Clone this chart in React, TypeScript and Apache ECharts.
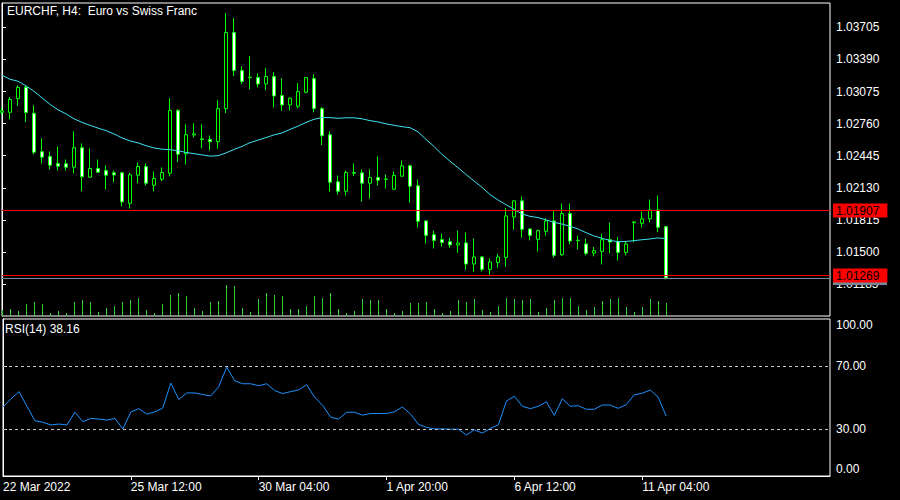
import React, { useEffect, useRef } from 'react';
import * as echarts from 'echarts';

// [open, close, low, high] for each H4 bar, 22 Mar 2022 20:00 .. 11 Apr 2022 16:00
const candles: number[][] = [
  [1.02871, 1.02885, 1.02841, 1.02920],
  [1.02871, 1.02996, 1.02802, 1.03021],
  [1.03006, 1.03114, 1.02933, 1.03136],
  [1.03117, 1.02868, 1.02775, 1.03136],
  [1.02861, 1.02480, 1.02457, 1.02940],
  [1.02484, 1.02431, 1.02369, 1.02615],
  [1.02438, 1.02352, 1.02310, 1.02487],
  [1.02369, 1.02342, 1.02300, 1.02536],
  [1.02366, 1.02332, 1.02300, 1.02408],
  [1.02332, 1.02523, 1.02270, 1.02684],
  [1.02523, 1.02238, 1.02096, 1.02566],
  [1.02234, 1.02320, 1.02230, 1.02516],
  [1.02320, 1.02283, 1.02277, 1.02408],
  [1.02300, 1.02254, 1.02113, 1.02349],
  [1.02277, 1.02256, 1.02185, 1.02300],
  [1.02277, 1.01992, 1.01949, 1.02287],
  [1.01978, 1.02258, 1.01926, 1.02277],
  [1.02254, 1.02339, 1.02175, 1.02379],
  [1.02339, 1.02175, 1.02152, 1.02369],
  [1.02155, 1.02221, 1.02096, 1.02290],
  [1.02214, 1.02280, 1.02195, 1.02330],
  [1.02273, 1.02890, 1.02241, 1.03009],
  [1.02890, 1.02460, 1.02382, 1.02900],
  [1.02464, 1.02651, 1.02359, 1.02753],
  [1.02649, 1.02659, 1.02625, 1.02763],
  [1.02610, 1.02605, 1.02517, 1.02753],
  [1.02605, 1.02582, 1.02497, 1.02644],
  [1.02582, 1.02907, 1.02514, 1.02989],
  [1.02907, 1.03655, 1.02864, 1.03845],
  [1.03655, 1.03281, 1.03228, 1.03796],
  [1.03281, 1.03173, 1.03146, 1.03323],
  [1.03215, 1.03210, 1.03097, 1.03422],
  [1.03212, 1.03149, 1.03117, 1.03254],
  [1.03149, 1.03222, 1.03087, 1.03304],
  [1.03222, 1.03031, 1.02920, 1.03264],
  [1.03035, 1.02943, 1.02884, 1.03205],
  [1.02943, 1.03009, 1.02890, 1.03018],
  [1.02930, 1.03074, 1.02910, 1.03156],
  [1.03068, 1.03212, 1.03058, 1.03215],
  [1.03202, 1.02907, 1.02871, 1.03245],
  [1.02907, 1.02641, 1.02549, 1.02923],
  [1.02651, 1.02185, 1.02093, 1.02684],
  [1.02189, 1.02096, 1.02064, 1.02251],
  [1.02096, 1.02280, 1.02054, 1.02297],
  [1.02273, 1.02280, 1.02244, 1.02369],
  [1.02277, 1.02175, 1.01995, 1.02310],
  [1.02175, 1.02231, 1.02024, 1.02310],
  [1.02231, 1.02205, 1.02152, 1.02438],
  [1.02211, 1.02216, 1.02123, 1.02261],
  [1.02116, 1.02251, 1.02112, 1.02290],
  [1.02244, 1.02346, 1.02240, 1.02398],
  [1.02346, 1.02146, 1.01985, 1.02356],
  [1.02149, 1.01801, 1.01742, 1.02211],
  [1.01805, 1.01663, 1.01585, 1.01808],
  [1.01670, 1.01614, 1.01535, 1.01710],
  [1.01621, 1.01594, 1.01552, 1.01680],
  [1.01601, 1.01569, 1.01542, 1.01641],
  [1.01569, 1.01589, 1.01493, 1.01710],
  [1.01589, 1.01382, 1.01326, 1.01690],
  [1.01382, 1.01451, 1.01306, 1.01631],
  [1.01451, 1.01329, 1.01309, 1.01461],
  [1.01329, 1.01402, 1.01277, 1.01434],
  [1.01398, 1.01451, 1.01346, 1.01483],
  [1.01447, 1.01854, 1.01355, 1.01933],
  [1.01844, 1.02002, 1.01719, 1.02008],
  [1.02002, 1.01722, 1.01641, 1.02044],
  [1.01726, 1.01663, 1.01614, 1.01732],
  [1.01624, 1.01710, 1.01506, 1.01719],
  [1.01703, 1.01805, 1.01660, 1.01831],
  [1.01805, 1.01467, 1.01444, 1.01900],
  [1.01473, 1.01877, 1.01464, 1.01975],
  [1.01877, 1.01608, 1.01575, 1.01975],
  [1.01616, 1.01611, 1.01526, 1.01660],
  [1.01579, 1.01486, 1.01467, 1.01631],
  [1.01490, 1.01513, 1.01457, 1.01549],
  [1.01506, 1.01621, 1.01378, 1.01680],
  [1.01621, 1.01598, 1.01486, 1.01788],
  [1.01604, 1.01496, 1.01417, 1.01648],
  [1.01496, 1.01579, 1.01467, 1.01604],
  [1.01788, 1.01795, 1.01594, 1.01798],
  [1.01781, 1.01825, 1.01742, 1.01897],
  [1.01825, 1.01913, 1.01791, 1.02015],
  [1.01913, 1.01742, 1.01693, 1.02054],
  [1.01749, 1.01245, 1.01230, 1.01756],
];

const maValues: number[] = [
  1.03235, 1.03195, 1.03176, 1.03131, 1.03077, 1.03013, 1.02949, 1.02895, 1.02856, 1.02807,
  1.02772, 1.02743, 1.02716, 1.02691, 1.02659, 1.02620, 1.02590, 1.02571, 1.02543, 1.02521,
  1.02509, 1.02504, 1.02494, 1.02477, 1.02465, 1.02453, 1.02441, 1.02445, 1.02472, 1.02507,
  1.02536, 1.02573, 1.02598, 1.02623, 1.02649, 1.02669, 1.02703, 1.02735, 1.02772, 1.02802,
  1.02819, 1.02819, 1.02812, 1.02817, 1.02817, 1.02807, 1.02789, 1.02777, 1.02758, 1.02743,
  1.02730, 1.02720, 1.02679, 1.02605, 1.02536, 1.02457, 1.02392, 1.02327, 1.02261, 1.02197,
  1.02135, 1.02064, 1.02010, 1.01965, 1.01919, 1.01872, 1.01850, 1.01838, 1.01815, 1.01791,
  1.01774, 1.01752, 1.01726, 1.01690, 1.01657, 1.01634, 1.01614, 1.01601, 1.01603, 1.01612,
  1.01620, 1.01628, 1.01638, 1.01631,
];

const volumes: number[] = [
  600, 700, 500, 1200, 1400, 1200, 300, 500, 300, 1400,
  1600, 1400, 400, 800, 1000, 1400, 1600, 1800, 600, 300,
  1200, 2100, 2300, 2000, 800, 500, 1400, 1500, 3100, 3000,
  800, 400, 1700, 2300, 2100, 2000, 700, 700, 1000, 2000,
  1800, 2300, 700, 300, 500, 1700, 1600, 1600, 700, 300,
  500, 1300, 1300, 1400, 700, 300, 500, 1600, 1400, 1700,
  600, 400, 1000, 1800, 1700, 1600, 1700, 400, 800, 1600,
  1800, 1800, 1000, 600, 900, 1500, 1700, 1800, 900, 400,
  900, 1700, 1500, 1300,
];

const rsiValues: number[] = [
  44.0, 49.2, 53.75, 44.4, 35.2, 34.2, 32.5, 33.1, 32.5, 40.6,
  34.6, 36.7, 36.25, 35.6, 36.7, 30.0, 40.8, 42.9, 39.4, 40.8,
  43.3, 59.2, 48.75, 52.9, 52.9, 51.9, 51.0, 56.9, 69.4, 60.6,
  58.75, 58.75, 57.5, 58.75, 54.4, 52.5, 53.75, 54.8, 58.1, 50.2,
  45.0, 37.5, 36.25, 40.6, 40.6, 38.75, 39.8, 39.8, 39.8, 40.9,
  44.0, 39.4, 32.9, 31.0, 30.0, 30.0, 29.8, 29.8, 26.1, 29.4,
  27.3, 30.4, 32.5, 47.7, 50.8, 44.4, 42.9, 44.4, 47.3, 38.6,
  49.2, 44.4, 44.8, 42.5, 42.5, 45.2, 45.2, 43.1, 45.4, 51.7,
  52.7, 54.8, 50.2, 38.16,
];

const priceTicks = [1.01185, 1.015, 1.01815, 1.0213, 1.02445, 1.0276, 1.03075, 1.0339, 1.03705];
const rsiTicks = [0, 30, 70, 100];
const rsiLevels = [70, 30];
const timeTickIndex = [0, 16, 32, 48, 64, 80];
const timeTickLabels = ['22 Mar 2022', '25 Mar 12:00', '30 Mar 04:00', '1 Apr 20:00', '6 Apr 12:00', '11 Apr 04:00'];
const redPriceLines = [1.01907, 1.01269];
const bidPrice = 1.01245;
const lastRsi = 38.16;

const FONT = '"Liberation Sans", Arial, sans-serif';

export default function App() {
  const ref = useRef<HTMLDivElement>(null);

  useEffect(() => {
    document.body.style.margin = '0';
    document.body.style.background = '#000';
    const chart = echarts.init(ref.current!, null, { renderer: 'svg' });

    const xMin = 0;
    const xMax = 103.5;
    const candleData = candles.map((c, i) => [i, c[0], c[1], c[2], c[3]]);
    const maData = maValues.map((v, i) => [i, v]);
    const volData = volumes.map((v, i) => [i, v]);
    const rsiData = rsiValues.map((v, i) => [i, v]);

    const txt = { color: '#ffffff', fontSize: 12, fontFamily: FONT };

    const redLabel = {
      show: true,
      position: 'end',
      distance: 3,
      formatter: (p: any) => Number(p.value).toFixed(5),
      backgroundColor: '#ff0000',
      color: '#000000',
      fontSize: 12,
      fontFamily: FONT,
      lineHeight: 14,
      padding: [0, 8, 0, 3],
    };
    // the bid label box sits under the red ask label; only a grey strip of it shows
    const greyLabel = {
      show: true,
      position: 'end',
      distance: 3,
      formatter: () => '{b|}',
      rich: { b: { width: 54, height: 14, backgroundColor: '#778899' } },
    };

    const option: any = {
      animation: false,
      backgroundColor: '#000000',
      title: [
        { text: 'EURCHF, H4:  Euro vs Swiss Franc', left: 7, top: 5, padding: 0, textStyle: { ...txt, fontWeight: 'normal' } },
        { text: `RSI(14) ${lastRsi.toFixed(2)}`, left: 5, top: 323, padding: 0, textStyle: { ...txt, fontWeight: 'normal' } },
      ],
      grid: [
        { left: 2, right: 70, top: 3, height: 313, show: true, borderColor: '#ffffff', borderWidth: 1, backgroundColor: 'transparent' },
        { left: 2.5, right: 69.5, top: 216, height: 100, show: false },
        { left: 2, right: 70, top: 319, height: 157, show: true, borderColor: '#ffffff', borderWidth: 1, backgroundColor: 'transparent' },
      ],
      xAxis: [
        { gridIndex: 0, type: 'value', min: xMin, max: xMax, show: false },
        { gridIndex: 1, type: 'value', min: xMin, max: xMax, show: false },
        {
          gridIndex: 2, type: 'value', min: xMin, max: xMax,
          axisLine: { show: true, lineStyle: { color: '#ffffff', width: 1 } },
          axisTick: { show: true, length: 4, customValues: timeTickIndex.slice(1), lineStyle: { color: '#ffffff' } },
          axisLabel: {
            show: true, customValues: timeTickIndex, align: 'left', margin: 5, ...txt,
            formatter: (v: number) => {
              const k = timeTickIndex.indexOf(Math.round(v));
              return k >= 0 ? timeTickLabels[k] : '';
            },
          },
          splitLine: { show: false },
        },
      ],
      yAxis: [
        {
          gridIndex: 0, type: 'value', position: 'right', min: 1.008718, max: 1.039437,
          axisLine: { show: true, lineStyle: { color: '#ffffff', width: 1 } },
          axisTick: { show: true, length: 4, customValues: priceTicks, lineStyle: { color: '#ffffff' } },
          axisLabel: { show: true, customValues: priceTicks, margin: 6, ...txt, formatter: (v: number) => v.toFixed(5) },
          splitLine: { show: false },
        },
        { gridIndex: 1, type: 'value', min: 0, max: 10000, show: false },
        {
          gridIndex: 2, type: 'value', position: 'right', min: 0, max: 100,
          axisLine: { show: true, lineStyle: { color: '#ffffff', width: 1 } },
          axisTick: { show: true, length: 4, customValues: rsiLevels, lineStyle: { color: '#ffffff' } },
          axisLabel: {
            show: true, customValues: rsiTicks, margin: 6, ...txt,
            formatter: (v: number) => (v === 100 ? '{hi|100.00}' : v === 0 ? '{lo|0.00}' : v.toFixed(2)),
            rich: {
              hi: { ...txt, padding: [12, 0, 0, 0] },
              lo: { ...txt, padding: [0, 0, 14, 0] },
            },
          },
          splitLine: { show: false },
        },
      ],
      series: [
        {
          type: 'bar', name: 'Volume', xAxisIndex: 1, yAxisIndex: 1, data: volData,
          barWidth: 1, itemStyle: { color: '#32cd32' }, silent: true,
        },
        {
          type: 'candlestick', name: 'EURCHF', xAxisIndex: 0, yAxisIndex: 0, data: candleData,
          barWidth: 4,
          itemStyle: {
            color: '#000000', color0: '#ffffff',
            borderColor: '#00ff00', borderColor0: '#00ff00', borderColorDoji: '#00ff00', borderWidth: 1,
          },
          markLine: {
            silent: true, symbol: ['none', 'none'], animation: false, precision: 5,
            data: [
              { yAxis: bidPrice, lineStyle: { color: '#778899', width: 1, type: 'solid' }, label: greyLabel },
              ...redPriceLines.map((p) => ({ yAxis: p, lineStyle: { color: '#ff0000', width: 1, type: 'solid' }, label: redLabel })),
            ],
          },
        },
        {
          type: 'line', name: 'MA', xAxisIndex: 0, yAxisIndex: 0, data: maData,
          symbol: 'none', lineStyle: { color: '#3fe0f0', width: 1 }, silent: true, z: 3,
        },
        {
          type: 'line', name: 'RSI(14)', xAxisIndex: 2, yAxisIndex: 2, data: rsiData,
          symbol: 'none', lineStyle: { color: '#1e90ff', width: 1 }, silent: true,
          markLine: {
            silent: true, symbol: ['none', 'none'], animation: false, precision: 2,
            label: { show: false },
            lineStyle: { color: '#c8c8c8', width: 1, type: [3, 3] },
            data: rsiLevels.map((v) => ({ yAxis: v })),
          },
        },
      ],
    };

    chart.setOption(option);
    return () => chart.dispose();
  }, []);

  return (
    <div
      ref={ref}
      style={{ position: 'fixed', left: 0, top: 0, width: 900, height: 500, background: '#000000' }}
    />
  );
}
